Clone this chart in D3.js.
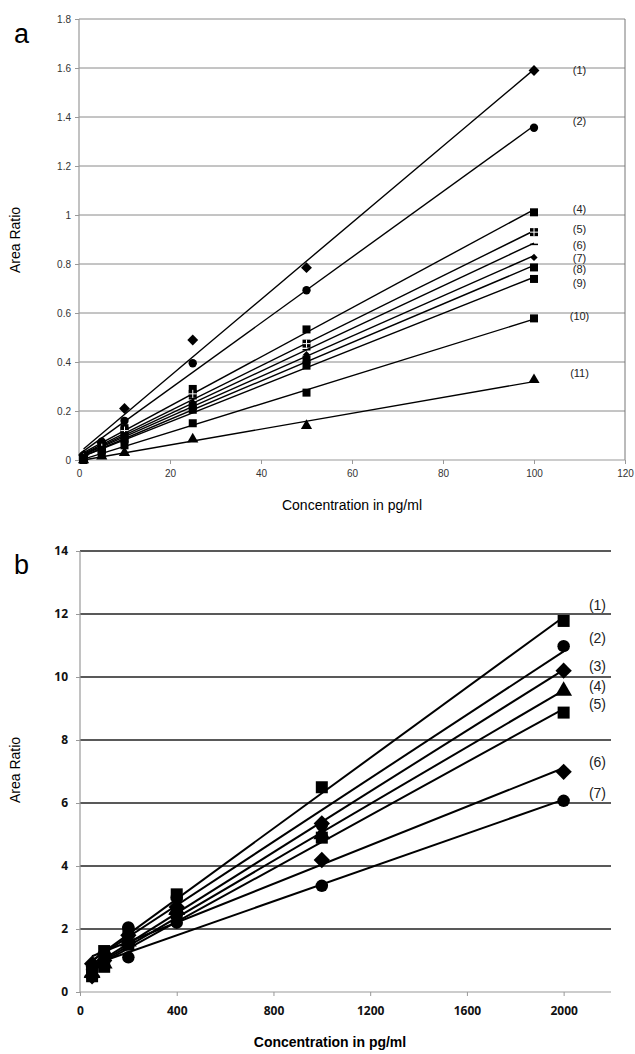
<!DOCTYPE html>
<html>
<head>
<meta charset="utf-8">
<script src="https://cdn.jsdelivr.net/npm/d3@7"></script>
<style>
  body { margin: 0; background: #fff; }
  svg { display: block; font-family: "Liberation Sans", Arial, sans-serif; }
</style>
</head>
<body>
<svg width="635" height="1054"></svg>
<script>
// ---- panel a data ----
const concA = [1, 5, 10, 25, 50, 100];
const ratioA1 = [0.02, 0.07, 0.21, 0.49, 0.785, 1.59];
const ratioA2 = [0.02, 0.075, 0.16, 0.395, 0.693, 1.356];
const ratioA4 = [0.01, 0.06, 0.13, 0.29, 0.533, 1.011];
const ratioA5 = [0.01, 0.05, 0.12, 0.27, 0.475, 0.93];
const ratioA6 = [0.01, 0.05, 0.11, 0.25, 0.45, 0.88];
const ratioA7 = [0.01, 0.045, 0.10, 0.235, 0.43, 0.827];
const ratioA8 = [0.005, 0.04, 0.09, 0.22, 0.41, 0.786];
const ratioA9 = [0.005, 0.04, 0.085, 0.205, 0.385, 0.739];
const ratioA10 = [0.0, 0.025, 0.06, 0.15, 0.275, 0.578];
const ratioA11 = [0.0, 0.015, 0.03, 0.085, 0.14, 0.327];
const namesA = ["(1)", "(2)", "(4)", "(5)", "(6)", "(7)", "(8)", "(9)", "(10)", "(11)"];
const shapesA = ["diamond", "circle", "square", "squarecross", "dash", "smalldiamond", "square", "square", "square", "triangle"];
const labelYA = [1.59, 1.384, 1.024, 0.943, 0.878, 0.824, 0.78, 0.722, 0.588, 0.355];
const yTicksA = [0, 0.2, 0.4, 0.6, 0.8, 1, 1.2, 1.4, 1.6, 1.8];
const xTicksA = [0, 20, 40, 60, 80, 100, 120];

// ---- panel b data ----
const concB = [50, 100, 200, 400, 1000, 2000];
const ratioB1 = [0.7, 1.3, 1.9, 3.1, 6.5, 11.78];
const ratioB2 = [0.8, 1.2, 2.05, 3.0, 5.3, 10.98];
const ratioB3 = [0.5, 1.0, 1.8, 2.7, 5.35, 10.2];
const ratioB4 = [0.6, 0.9, 1.6, 2.6, 5.0, 9.56];
const ratioB5 = [0.5, 0.8, 1.5, 2.5, 4.9, 8.87];
const ratioB6 = [0.9, 1.2, 1.6, 2.5, 4.19, 6.99];
const ratioB7 = [0.7, 1.0, 1.1, 2.2, 3.37, 6.07];
const namesB = ["(1)", "(2)", "(3)", "(4)", "(5)", "(6)", "(7)"];
const shapesB = ["square", "circle", "diamond", "triangle", "square", "diamond", "circle"];
const labelYB = [12.29, 11.24, 10.35, 9.71, 9.14, 7.3, 6.32];
const yTicksB = [0, 2, 4, 6, 8, 10, 12, 14];
const xTicksB = [0, 400, 800, 1200, 1600, 2000];

let svg = d3.select("svg");

// least squares trendline
function fit(xs, ys) {
    let mx = d3.mean(xs), my = d3.mean(ys), sxy = 0, sxx = 0;
    xs.forEach(function (x, i) {
        sxy += (x - mx) * (ys[i] - my);
        sxx += (x - mx) * (x - mx);
    });
    let b = sxy / sxx;
    return {slope: b, icpt: my - b * mx};
}

function drawMarker(g, shape, size) {
    let s = size;
    if (shape === "square") {
        g.append("rect").attr("x", -s / 2).attr("y", -s / 2).attr("width", s).attr("height", s).attr("fill", "#000");
    } else if (shape === "squarecross") {
        g.append("rect").attr("x", -s / 2).attr("y", -s / 2).attr("width", s).attr("height", s).attr("fill", "#000");
        g.append("path").attr("d", "M0," + (-s / 2) + "V" + (s / 2) + "M" + (-s / 2) + ",0H" + (s / 2))
            .attr("stroke", "#fff").attr("stroke-width", 1);
    } else if (shape === "dash") {
        g.append("path").attr("d", "M" + (-s / 2) + ",0H" + (s / 2)).attr("stroke", "#000").attr("stroke-width", 1.5);
    } else if (shape === "diamond" || shape === "smalldiamond") {
        let r = shape === "diamond" ? s * 0.68 : s * 0.45;
        g.append("path").attr("d", "M0," + (-r) + "L" + r + ",0L0," + r + "L" + (-r) + ",0Z").attr("fill", "#000");
    } else {
        let type = shape === "circle" ? d3.symbolCircle : d3.symbolTriangle;
        g.append("path").attr("d", d3.symbol().type(type).size(s * s * 0.85)()).attr("fill", "#000");
    }
}

function drawPanel(p) {
    let x = d3.scaleLinear().domain(p.xDomain).range(p.xRange);
    let y = d3.scaleLinear().domain(p.yDomain).range(p.yRange);
    let g = svg.append("g");

    // gridlines
    g.append("g").selectAll("line")
        .data(p.yTicks.filter(function (d) { return d > 0; }))
        .enter().append("line")
        .attr("x1", p.xRange[0]).attr("x2", p.gridEnd)
        .attr("y1", function (d) { return y(d); }).attr("y2", function (d) { return y(d); })
        .attr("stroke", p.gridColor).attr("stroke-width", p.gridWidth);

    if (p.box) {
        g.append("line").attr("x1", p.xRange[1]).attr("x2", p.xRange[1])
            .attr("y1", p.yRange[0]).attr("y2", p.yRange[1])
            .attr("stroke", "#777").attr("stroke-width", 1);
    }

    // axes
    let yAxis = d3.axisLeft(y).tickValues(p.yTicks).tickSize(4).tickPadding(p.yPad).tickFormat(d3.format("~g"));
    let xAxis = d3.axisBottom(x).tickValues(p.xTicks).tickSize(4).tickPadding(p.xPad).tickFormat(d3.format("~g"));
    let ya = g.append("g").attr("transform", "translate(" + p.xRange[0] + ",0)").call(yAxis);
    let xa = g.append("g").attr("transform", "translate(0," + p.yRange[0] + ")").call(xAxis);
    [ya, xa].forEach(function (a) {
        a.select(".domain").attr("stroke", "#999").attr("stroke-width", 1.2);
        a.selectAll(".tick line").attr("stroke", "#999");
        a.selectAll(".tick text").attr("fill", p.tickColor)
            .style("font-size", p.tickSize + "px").style("font-weight", p.tickWeight)
            .style("font-family", p.tickFont);
    });
    xa.select(".domain").attr("d", "M" + p.xRange[0] + ",0H" + p.gridEnd);
    ya.select(".domain").attr("d", "M0," + p.yRange[0] + "V" + p.yRange[1]);

    // trendlines
    p.series.forEach(function (s) {
        let f = fit(p.conc, s);
        let x0 = d3.min(p.conc), x1 = d3.max(p.conc);
        g.append("line")
            .attr("x1", x(x0)).attr("y1", y(f.icpt + f.slope * x0))
            .attr("x2", x(x1)).attr("y2", y(f.icpt + f.slope * x1))
            .attr("stroke", "#000").attr("stroke-width", p.lineWidth);
    });

    // markers
    p.series.forEach(function (s, i) {
        g.append("g").selectAll("g")
            .data(s)
            .enter().append("g")
            .attr("transform", function (d, j) { return "translate(" + x(p.conc[j]) + "," + y(d) + ")"; })
            .each(function () { drawMarker(d3.select(this), p.shapes[i], p.markerSize); });
    });

    // series labels
    g.append("g").selectAll("text")
        .data(p.names)
        .enter().append("text")
        .attr("x", x(p.labelX))
        .attr("y", function (d, i) { return y(p.labelY[i]); })
        .attr("dy", "0.35em")
        .attr("text-anchor", "middle")
        .style("font-size", p.labelSize + "px")
        .attr("fill", "#222")
        .text(function (d) { return d; });

    // titles
    g.append("text").attr("x", p.letterPos[0]).attr("y", p.letterPos[1])
        .style("font-size", "27px").text(p.letter);
    g.append("text")
        .attr("transform", "translate(" + p.yTitlePos[0] + "," + p.yTitlePos[1] + ") rotate(-90)")
        .attr("text-anchor", "middle").style("font-size", "14px").text("Area Ratio");
    g.append("text").attr("x", p.xTitlePos[0]).attr("y", p.xTitlePos[1])
        .attr("text-anchor", "middle").style("font-size", p.xTitleSize + "px")
        .style("font-weight", p.xTitleWeight).text("Concentration in pg/ml");
}

drawPanel({
    conc: concA,
    series: [ratioA1, ratioA2, ratioA4, ratioA5, ratioA6, ratioA7, ratioA8, ratioA9, ratioA10, ratioA11],
    names: namesA, shapes: shapesA, labelY: labelYA, labelX: 110,
    xDomain: [0, 120], xRange: [79, 625], yDomain: [0, 1.8], yRange: [460, 19],
    yTicks: yTicksA, xTicks: xTicksA, gridEnd: 625, box: true, yPad: 4, xPad: 6,
    gridColor: "#8a8a8a", gridWidth: 1, lineWidth: 1.4, markerSize: 8,
    tickColor: "#333", tickSize: 10, tickWeight: "normal", tickFont: "Liberation Sans",
    labelSize: 11, letter: "a", letterPos: [14, 43], yTitlePos: [20, 240],
    xTitlePos: [352, 510], xTitleSize: 14, xTitleWeight: "normal"
});

drawPanel({
    conc: concB,
    series: [ratioB1, ratioB2, ratioB3, ratioB4, ratioB5, ratioB6, ratioB7],
    names: namesB, shapes: shapesB, labelY: labelYB, labelX: 2140,
    xDomain: [0, 2200], xRange: [80, 612], yDomain: [0, 14], yRange: [992, 551],
    yTicks: yTicksB, xTicks: xTicksB, gridEnd: 611, box: false, yPad: 8, xPad: 10,
    gridColor: "#222", gridWidth: 1.5, lineWidth: 2, markerSize: 12,
    tickColor: "#111", tickSize: 12, tickWeight: "bold", tickFont: "Open Sans",
    labelSize: 14, letter: "b", letterPos: [14, 574], yTitlePos: [20, 770],
    xTitlePos: [330, 1047], xTitleSize: 14, xTitleWeight: "bold"
});
</script>
</body>
</html>
